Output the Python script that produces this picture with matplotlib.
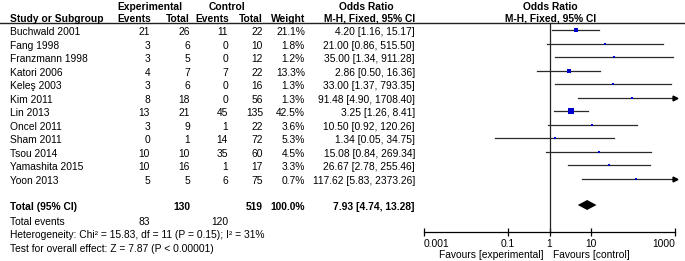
import numpy as np
import matplotlib
matplotlib.use("Agg")
import matplotlib.pyplot as plt

plt.rcParams['font.family'] = ['Liberation Sans', 'DejaVu Sans']

studies = ["Buchwald 2001", "Fang 1998", "Franzmann 1998", "Katori 2006", "Keleş 2003",
           "Kim 2011", "Lin 2013", "Oncel 2011", "Sham 2011", "Tsou 2014",
           "Yamashita 2015", "Yoon 2013"]
exp_events = [21, 3, 3, 4, 3, 8, 13, 3, 0, 10, 10, 5]
exp_total = [26, 6, 5, 7, 6, 18, 21, 9, 1, 10, 16, 5]
ctl_events = [11, 0, 0, 7, 0, 0, 45, 1, 14, 35, 1, 6]
ctl_total = [22, 10, 12, 22, 16, 56, 135, 22, 72, 60, 17, 75]
weight = [21.1, 1.8, 1.2, 13.3, 1.3, 1.3, 42.5, 3.6, 5.3, 4.5, 3.3, 0.7]
odds = [4.20, 21.00, 35.00, 2.86, 33.00, 91.48, 3.25, 10.50, 1.34, 15.08, 26.67, 117.62]
ci_lo = [1.16, 0.86, 1.34, 0.50, 1.37, 4.90, 1.26, 0.92, 0.05, 0.84, 2.78, 5.83]
ci_hi = [15.17, 515.50, 911.28, 16.36, 793.35, 1708.40, 8.41, 120.26, 34.75, 269.34, 255.46, 2373.26]

total_exp, total_ctl = 130, 519
total_weight = 100.0
events_exp, events_ctl = 83, 120
pooled = [7.93, 4.74, 13.28]
ticks = [0.001, 0.1, 1, 10, 1000]
tick_labels = ["0.001", "0.1", "1", "10", "1000"]

W, H = 685, 261
fs = 7.4
fig = plt.figure(figsize=(W / 100, H / 100), dpi=100)
fig.patch.set_facecolor('white')

# text layer in pixel coordinates
ax = fig.add_axes([0, 0, 1, 1])
ax.set_xlim(0, W)
ax.set_ylim(H, 0)
ax.axis('off')

row0, step = 30, 13.55
ty = 2.0  # text sits slightly below the line of the marker

# headers
ax.text(150, 7, "Experimental", ha='center', va='center', fontsize=fs, fontweight='bold')
ax.text(227, 7, "Control", ha='center', va='center', fontsize=fs, fontweight='bold')
ax.text(366, 7, "Odds Ratio", ha='center', va='center', fontsize=fs, fontweight='bold')
ax.text(550, 7, "Odds Ratio", ha='center', va='center', fontsize=fs, fontweight='bold')
hy = 18.5
ax.text(10, hy, "Study or Subgroup", ha='left', va='center', fontsize=fs, fontweight='bold')
ax.text(151, hy, "Events", ha='right', va='center', fontsize=fs, fontweight='bold')
ax.text(190, hy, "Total", ha='right', va='center', fontsize=fs, fontweight='bold')
ax.text(229, hy, "Events", ha='right', va='center', fontsize=fs, fontweight='bold')
ax.text(263, hy, "Total", ha='right', va='center', fontsize=fs, fontweight='bold')
ax.text(305, hy, "Weight", ha='right', va='center', fontsize=fs, fontweight='bold')
ax.text(415, hy, "M-H, Fixed, 95% CI", ha='right', va='center', fontsize=fs, fontweight='bold')
ax.text(551, hy, "M-H, Fixed, 95% CI", ha='center', va='center', fontsize=fs, fontweight='bold')
ax.plot([0, W], [22.5, 22.5], color='#222222', lw=1.0)

for i, s in enumerate(studies):
    y = row0 + i * step + ty
    ax.text(10, y, s, ha='left', va='center', fontsize=fs)
    ax.text(150, y, str(exp_events[i]), ha='right', va='center', fontsize=fs)
    ax.text(190, y, str(exp_total[i]), ha='right', va='center', fontsize=fs)
    ax.text(228, y, str(ctl_events[i]), ha='right', va='center', fontsize=fs)
    ax.text(263, y, str(ctl_total[i]), ha='right', va='center', fontsize=fs)
    ax.text(305, y, "%.1f%%" % weight[i], ha='right', va='center', fontsize=fs)
    ax.text(415, y, "%.2f [%.2f, %.2f]" % (odds[i], ci_lo[i], ci_hi[i]),
            ha='right', va='center', fontsize=fs)

ty_tot = 205 + 1.5
ax.text(10, ty_tot, "Total (95% CI)", ha='left', va='center', fontsize=fs, fontweight='bold')
ax.text(190, ty_tot, str(total_exp), ha='right', va='center', fontsize=fs, fontweight='bold')
ax.text(263, ty_tot, str(total_ctl), ha='right', va='center', fontsize=fs, fontweight='bold')
ax.text(305, ty_tot, "%.1f%%" % total_weight, ha='right', va='center', fontsize=fs, fontweight='bold')
ax.text(415, ty_tot, "%.2f [%.2f, %.2f]" % tuple(pooled), ha='right', va='center',
        fontsize=fs, fontweight='bold')
ax.text(10, 222, "Total events", ha='left', va='center', fontsize=fs)
ax.text(150, 222, str(events_exp), ha='right', va='center', fontsize=fs)
ax.text(228, 222, str(events_ctl), ha='right', va='center', fontsize=fs)
ax.text(10, 235.5, "Heterogeneity: Chi² = 15.83, df = 11 (P = 0.15); I² = 31%",
        ha='left', va='center', fontsize=fs)
ax.text(10, 249, "Test for overall effect: Z = 7.87 (P < 0.00001)",
        ha='left', va='center', fontsize=fs)

# forest panel
x0, x1, ytop, ybot = 424, 675, 22.5, 232
fx = fig.add_axes([x0 / W, (H - ybot) / H, (x1 - x0) / W, (ybot - ytop) / H])
fx.set_xscale('log')
fx.set_xlim(0.001, 1000)
fx.set_ylim(ybot, ytop)
fx.patch.set_alpha(0)
for sp in ['top', 'left', 'right']:
    fx.spines[sp].set_visible(False)
fx.spines['bottom'].set_linewidth(0.9)
fx.yaxis.set_visible(False)
fx.axvline(1, color='#222222', lw=0.9)

for i in range(len(studies)):
    y = row0 + i * step
    hi = min(ci_hi[i], 1000)
    lo = max(ci_lo[i], 0.001)
    fx.plot([lo, hi], [y, y], color='#2a2a2a', lw=0.9, clip_on=False)
    if ci_hi[i] > 1000:
        fx.plot([1000], [y], marker='>', color='black', markersize=3.5, clip_on=False)
    side = max(2.0, 1.07 * np.sqrt(weight[i]))
    fx.plot([odds[i]], [y], marker='s', color='#0000CC', markersize=side * 0.72,
            markeredgewidth=0, linestyle='none')

dy = 205
fx.fill([pooled[1], pooled[0], pooled[2], pooled[0]], [dy, dy - 5, dy, dy + 5],
        color='black', lw=0)

fx.set_xticks(ticks)
fx.set_xticklabels(tick_labels)
fx.minorticks_off()
fx.tick_params(axis='x', direction='inout', length=6, width=0.9, labelsize=fs, pad=2)
labs = fx.get_xticklabels()
labs[0].set_ha('left')
labs[-1].set_ha('right')

ax.text(544, 255, "Favours [experimental]", ha='right', va='center', fontsize=fs)
ax.text(553, 255, "Favours [control]", ha='left', va='center', fontsize=fs)

fig.savefig("out.png", dpi=100)
